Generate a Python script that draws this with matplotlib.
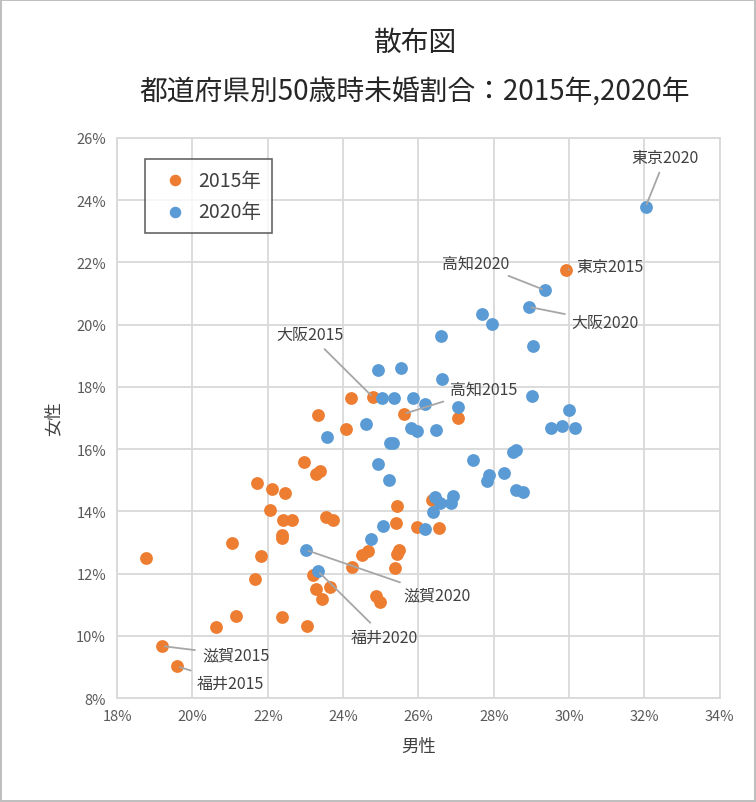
import matplotlib.pyplot as plt
from matplotlib.ticker import FuncFormatter

plt.rcParams['font.family'] = ['Noto Sans CJK JP', 'DejaVu Sans']

# 2015年 (男性%, 女性%)
m2015 = [18.77, 19.19, 19.59, 20.63, 21.16, 22.38, 23.04, 21.66, 21.82, 21.05,
         22.38, 22.38, 22.40, 22.64, 22.06, 22.11, 22.46, 21.71, 22.96, 23.28,
         23.38, 24.07, 23.33, 24.21, 24.79, 25.61, 27.05, 23.54, 23.73, 24.23,
         24.50, 24.66, 23.20, 23.28, 23.65, 23.44, 24.87, 24.98, 25.37, 25.43,
         25.48, 25.40, 25.43, 25.96, 26.54, 26.36, 29.91]
f2015 = [12.50, 9.67, 9.02, 10.28, 10.63, 10.60, 10.31, 11.82, 12.56, 12.98,
         13.24, 13.14, 13.72, 13.72, 14.04, 14.71, 14.59, 14.91, 15.58, 15.20,
         15.29, 16.64, 17.09, 17.64, 17.67, 17.13, 17.00, 13.81, 13.72, 12.21,
         12.59, 12.72, 11.95, 11.50, 11.56, 11.18, 11.27, 11.08, 12.17, 12.62,
         12.75, 13.62, 14.17, 13.49, 13.46, 14.36, 21.76]
# 2020年
m2020 = [32.03, 29.35, 28.93, 27.68, 27.95, 26.59, 29.04, 24.92, 25.53, 26.62,
         25.03, 25.35, 25.85, 26.17, 27.05, 29.01, 29.99, 24.60, 25.80, 25.96,
         26.46, 29.51, 29.80, 30.15, 23.57, 25.24, 25.32, 28.50, 28.58, 24.92,
         27.44, 25.21, 27.81, 27.87, 28.26, 28.58, 28.77, 26.43, 26.57, 26.91,
         26.86, 26.38, 26.17, 25.06, 24.74, 23.01, 23.33]
f2020 = [23.78, 21.11, 20.57, 20.34, 20.02, 19.63, 19.31, 18.54, 18.60, 18.25,
         17.64, 17.64, 17.64, 17.45, 17.35, 17.70, 17.25, 16.80, 16.68, 16.58,
         16.61, 16.68, 16.74, 16.68, 16.39, 16.19, 16.19, 15.90, 15.97, 15.52,
         15.65, 15.00, 14.97, 15.16, 15.23, 14.68, 14.62, 14.46, 14.26, 14.49,
         14.26, 13.97, 13.43, 13.52, 13.11, 12.76, 12.08]

# label, point, text position, alignment
labels = [
    ('東京2020', (32.03, 23.78), (32.56, 25.10), 'center'),
    ('東京2015', (29.91, 21.76), (30.19, 21.88), 'left'),
    ('高知2020', (29.35, 21.11), (28.42, 21.98), 'right'),
    ('大阪2020', (28.93, 20.57), (30.07, 20.08), 'left'),
    ('大阪2015', (24.79, 17.67), (24.02, 19.67), 'right'),
    ('高知2015', (25.61, 17.13), (26.83, 17.93), 'left'),
    ('滋賀2020', (23.01, 12.76), (25.59, 11.31), 'left'),
    ('福井2020', (23.33, 12.08), (24.21, 9.96), 'left'),
    ('滋賀2015', (19.19, 9.67), (20.25, 9.38), 'left'),
    ('福井2015', (19.59, 9.02), (20.12, 8.48), 'left'),
]

fig = plt.figure(figsize=(7.56, 8.03), dpi=100)
fig.patch.set_edgecolor('#bfbfbf')
fig.patch.set_linewidth(1.5)
ax = fig.add_axes([0.155, 0.1295, 0.797, 0.6975])

ax.scatter(m2015, f2015, s=85, color='#ed7d31', label='2015年', zorder=3, linewidths=0)
ax.scatter(m2020, f2020, s=85, color='#5b9bd5', label='2020年', zorder=3, linewidths=0)

for text, pt, txt, ha in labels:
    va = 'bottom' if ha == 'center' else 'center'
    ax.annotate(text, xy=pt, xytext=txt, ha=ha, va=va, fontsize=11.5, color='#404040',
                arrowprops=dict(arrowstyle='-', color='#a6a6a6', lw=1.3,
                                shrinkA=3, shrinkB=2), zorder=4)

ax.set_xlim(18, 34)
ax.set_ylim(8, 26)
ax.set_xticks(range(18, 35, 2))
ax.set_yticks(range(8, 27, 2))
pct = FuncFormatter(lambda v, p: f'{v:.0f}%')
ax.xaxis.set_major_formatter(pct)
ax.yaxis.set_major_formatter(pct)
ax.grid(color='#d9d9d9', lw=1.3)
ax.set_axisbelow(True)
for s in ax.spines.values():
    s.set_color('#d9d9d9')
    s.set_linewidth(1.3)
ax.tick_params(length=0, labelsize=10.5, labelcolor='#595959', pad=8)
ax.set_xlabel('男性', fontsize=12.5, color='#404040', labelpad=10)
ax.set_ylabel('女性', fontsize=12.5, color='#404040', labelpad=10)

leg = ax.legend(loc='upper left', bbox_to_anchor=(0.03, 0.98), fontsize=14,
                frameon=True, fancybox=False, edgecolor='#404040',
                handletextpad=0.2, borderpad=0.55, labelspacing=0.55, markerscale=0.9)
leg.get_frame().set_linewidth(1.2)
for t in leg.get_texts():
    t.set_color('#404040')

fig.text(0.549, 0.947, '散布図', ha='center', va='center', fontsize=20, color='#262626')
fig.text(0.549, 0.885, '都道府県別50歳時未婚割合：2015年,2020年', ha='center', va='center',
         fontsize=20, color='#262626')

fig.savefig('out.png', dpi=100, edgecolor=fig.get_edgecolor())
